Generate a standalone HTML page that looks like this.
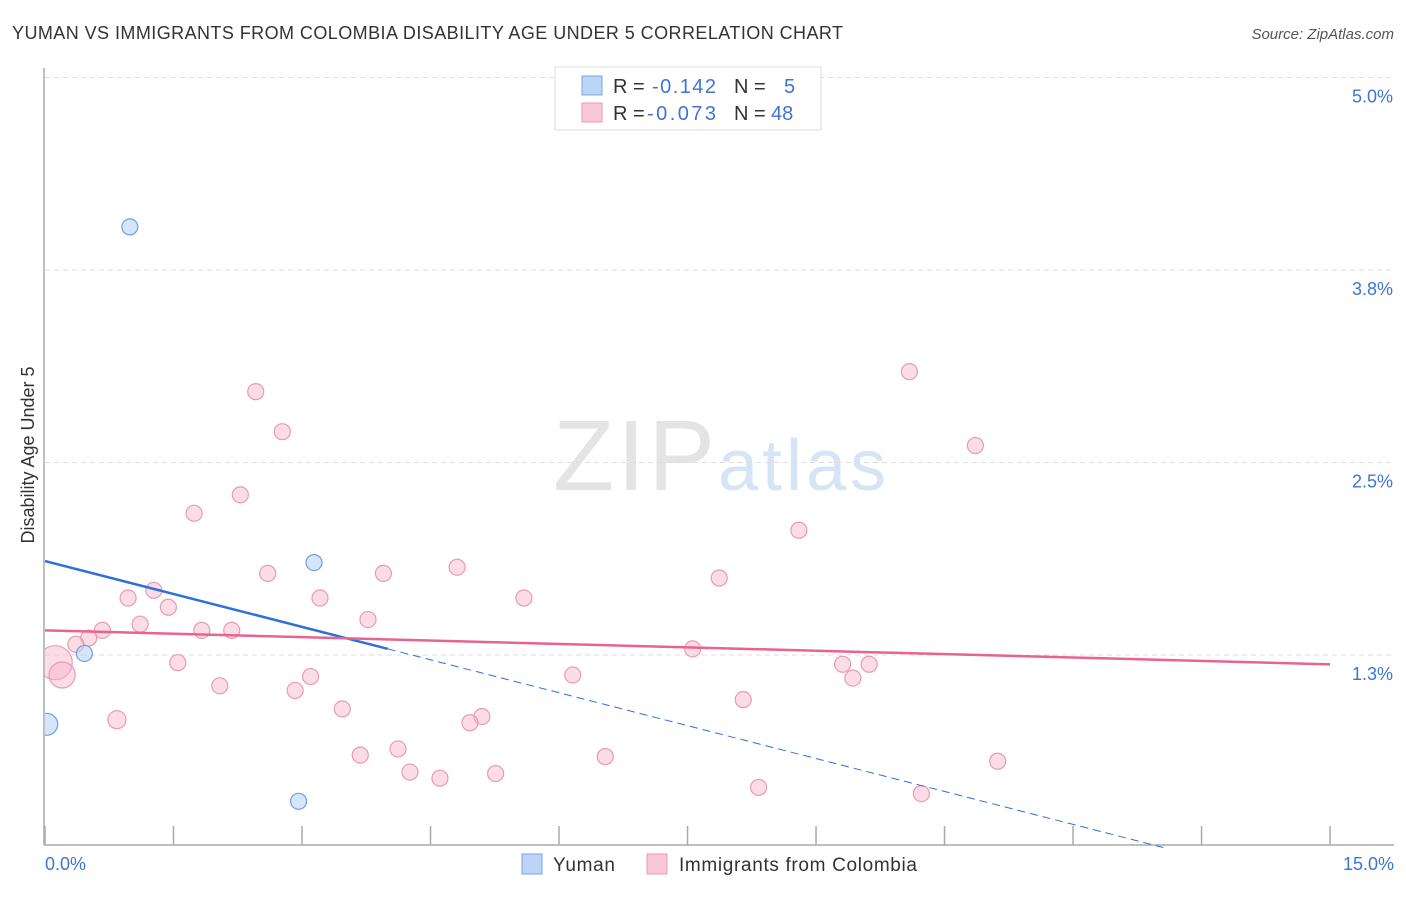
<!DOCTYPE html>
<html><head><meta charset="utf-8"><style>
body{margin:0;background:#fff;font-family:"Liberation Sans",sans-serif}
svg text{font-family:"Liberation Sans",sans-serif}
</style></head><body>
<svg id="c" width="1406" height="892" xmlns="http://www.w3.org/2000/svg">
<defs><clipPath id="plot"><rect x="45" y="60" width="1350" height="785"/></clipPath></defs>
<text x="12" y="39" font-size="18" fill="#333" textLength="831">YUMAN VS IMMIGRANTS FROM COLOMBIA DISABILITY AGE UNDER 5 CORRELATION CHART</text>
<text x="1394" y="39" font-size="15" fill="#555" font-style="italic" text-anchor="end">Source: ZipAtlas.com</text>
<text x="553" y="490" font-size="100" fill="#e4e4e4" textLength="162" font-family="Liberation Serif">ZIP</text>
<text x="718" y="490" font-size="72" fill="#d6e4f5" textLength="168">atlas</text>
<g id="grid"></g>
<line x1="44" y1="68" x2="44" y2="845" stroke="#aaa" stroke-width="1.5"/>
<line x1="44" y1="845" x2="1394" y2="845" stroke="#aaa" stroke-width="1.5"/>
<g id="ticks"></g>
<g id="pts" clip-path="url(#plot)"></g>
<g id="trends"></g>
<text x="34" y="455" font-size="18" fill="#333" text-anchor="middle" transform="rotate(-90 34 455)">Disability Age Under 5</text>
<text x="45" y="870" font-size="18" fill="#3f74d6">0.0%</text>
<text x="1394" y="870" font-size="18" fill="#3f74d6" text-anchor="end">15.0%</text>
<g>
<rect x="555" y="67" width="266" height="63" fill="#fff" stroke="#ddd"/>
<rect x="582" y="76" width="20" height="19" fill="#bcd4f6" stroke="#7aa6e6"/>
<rect x="582" y="103" width="20" height="19" fill="#f9c7d5" stroke="#eb9ab2"/>
<text y="93" font-size="20"><tspan x="613" fill="#333">R = </tspan><tspan x="652" fill="#3f74d6" textLength="64">-0.142</tspan><tspan x="734" fill="#333">N = </tspan><tspan x="784" fill="#3f74d6">5</tspan></text>
<text y="120" font-size="20"><tspan x="613" fill="#333">R = </tspan><tspan x="647" fill="#3f74d6" textLength="69">-0.073</tspan><tspan x="734" fill="#333">N = </tspan><tspan x="771" fill="#3f74d6">48</tspan></text>
</g>
<rect x="522" y="854" width="20" height="20" fill="#bcd4f6" stroke="#7aa6e6"/>
<text x="553" y="871" font-size="19" fill="#333" textLength="62">Yuman</text>
<rect x="647" y="854" width="20" height="20" fill="#f9c7d5" stroke="#eb9ab2"/>
<text x="679" y="871" font-size="19" fill="#333" textLength="238">Immigrants from Colombia</text>
</svg>
<script>
const yTicks=[5.0,3.75,2.5,1.25];
const yTickLabels=["5.0%","3.8%","2.5%","1.3%"];
const xTicks=[0,1.5,3,4.5,6,7.5,9,10.5,12,13.5,15];
const pinkX=[2.46,2.77,2.28,1.74,10.09,10.86,8.80,4.81,3.95,2.60,7.87,1.27,0.97,3.21,5.59,1.44,1.11,3.77,0.67,1.83,2.18,0.51,0.36,7.56,1.55,9.31,9.62,9.43,6.16,3.10,0.12,0.20,2.04,2.92,8.15,3.47,5.10,4.96,0.84,3.68,4.12,6.54,4.26,4.61,5.26,11.12,8.33,10.23];
const pinkY=[2.96,2.70,2.29,2.17,3.09,2.61,2.06,1.82,1.78,1.78,1.75,1.67,1.62,1.62,1.62,1.56,1.45,1.48,1.41,1.41,1.41,1.36,1.32,1.29,1.20,1.19,1.19,1.10,1.12,1.11,1.20,1.12,1.05,1.02,0.96,0.90,0.85,0.81,0.83,0.60,0.64,0.59,0.49,0.45,0.48,0.56,0.39,0.35];
const pinkR=[8,8,8,8,8,8,8,8,8,8,8,8,8,8,8,8,8,8,8,8,8,8,8,8,8,8,8,8,8,8,17,13,8,8,8,8,8,8,9,8,8,8,8,8,8,8,8,8];
const blueX=[0.99,3.14,0.46,0.02,2.96];
const blueY=[4.03,1.85,1.26,0.80,0.30];
const blueR=[8,8,8,11,8];
const blueTrend=[1.86,-0.1425];
const blueSolidEnd=4.0;
const pinkTrend=[1.41,-0.0147];
const NS="http://www.w3.org/2000/svg";
const xs=v=>45+v*85.67;
const ys=v=>847.5-v*154;
function mk(tag,attrs,parent){const e=document.createElementNS(NS,tag);for(const k in attrs)e.setAttribute(k,attrs[k]);parent.appendChild(e);return e;}
const grid=document.getElementById('grid'),ticks=document.getElementById('ticks'),pts=document.getElementById('pts'),tr=document.getElementById('trends');
yTicks.forEach((t,i)=>{
 const l=mk('line',{x1:45,x2:1394,y1:ys(t),y2:ys(t),stroke:'#ddd','stroke-dasharray':'5,4'},grid);
 
 
 const tx=mk('text',{x:1393,y:ys(t)+25,'font-size':18,fill:'#3f74d6','text-anchor':'end'},grid);
 tx.textContent=yTickLabels[i];
 
 
});
xTicks.forEach(t=>{
 const l=mk('line',{x1:xs(t),x2:xs(t),y1:826,y2:845,stroke:'#aaa','stroke-width':1.5},ticks);
 
 
});
pinkX.forEach((x,i)=>{
 const c=mk('circle',{cx:xs(x),cy:ys(pinkY[i]),r:pinkR[i],fill:'rgba(248,180,200,0.45)',stroke:'#e89ab2','stroke-width':1.2},pts);
 
 
});
blueX.forEach((x,i)=>{
 const c=mk('circle',{cx:xs(x),cy:ys(blueY[i]),r:blueR[i],fill:'rgba(180,208,245,0.55)',stroke:'#6f9fe0','stroke-width':1.2},pts);
 
 
});
const bz=-blueTrend[0]/blueTrend[1];
let l=mk('line',{x1:xs(0),y1:ys(blueTrend[0]),x2:xs(blueSolidEnd),y2:ys(blueTrend[0]+blueTrend[1]*blueSolidEnd),stroke:'#2f6fd8','stroke-width':2.5},tr);


l=mk('line',{x1:xs(blueSolidEnd),y1:ys(blueTrend[0]+blueTrend[1]*blueSolidEnd),x2:xs(bz),y2:ys(0),stroke:'#2f6fd8','stroke-width':1,'stroke-dasharray':'8,5'},tr);


l=mk('line',{x1:xs(0),y1:ys(pinkTrend[0]),x2:xs(15),y2:ys(pinkTrend[0]+pinkTrend[1]*15),stroke:'#e8648e','stroke-width':2.5},tr);


</script>
</body></html>
